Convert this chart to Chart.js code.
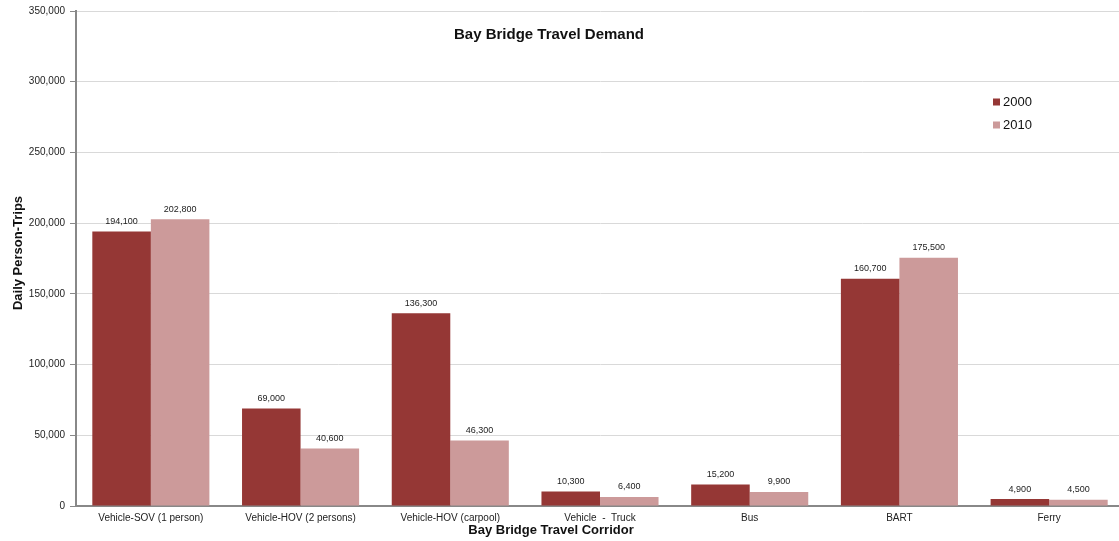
<!DOCTYPE html>
<html>
<head>
<meta charset="utf-8">
<script src="https://cdn.jsdelivr.net/npm/chart.js@4/dist/chart.umd.min.js"></script>
<style>
  html, body { margin: 0; padding: 0; background: #fff; overflow: hidden; }
  #wrap { width: 1119px; height: 541px; position: relative; overflow: hidden; }
  #c { display: block; }
</style>
</head>
<body>
<div id="wrap"><canvas id="c" width="1124" height="541"></canvas></div>
<script>
const categories = ["Vehicle-SOV (1 person)", "Vehicle-HOV (2 persons)", "Vehicle-HOV (carpool)", "Vehicle  -  Truck", "Bus", "BART", "Ferry"];
const series2000 = [194100, 69000, 136300, 10300, 15200, 160700, 4900];
const series2010 = [202800, 40600, 46300, 6400, 9900, 175500, 4500];
const seriesNames = ["2000", "2010"];
const yTicks = [0, 50000, 100000, 150000, 200000, 250000, 300000, 350000];

const chartTitle = "Bay Bridge Travel Demand";
const xTitle = "Bay Bridge Travel Corridor";
const yTitle = "Daily Person-Trips";
const colors = ["#953735", "#CC9A9A"];
const FONT = "'Liberation Sans', Arial, sans-serif";

const fmt = v => v.toLocaleString('en-US');

const overlay = {
  id: 'overlay',
  afterDatasetsDraw(chart) {
    const ctx = chart.ctx;
    ctx.save();
    // value labels
    ctx.font = "9px " + FONT;
    ctx.fillStyle = "#222";
    ctx.textAlign = "center";
    ctx.textBaseline = "middle";
    chart.data.datasets.forEach((ds, di) => {
      chart.getDatasetMeta(di).data.forEach((bar, i) => {
        ctx.fillText(fmt(ds.data[i]), bar.x, bar.y - 10);
      });
    });
    // title
    ctx.font = "bold 15px " + FONT;
    ctx.fillStyle = "#111";
    ctx.fillText(chartTitle, 549, 34.5);
    // x title
    ctx.font = "bold 13px " + FONT;
    ctx.fillText(xTitle, 551, 530);
    // y title
    ctx.save();
    ctx.translate(18, 253);
    ctx.rotate(-Math.PI / 2);
    ctx.fillText(yTitle, 0, 0);
    ctx.restore();
    // legend
    ctx.font = "13px " + FONT;
    ctx.textAlign = "left";
    seriesNames.forEach((n, i) => {
      const y = 102 + i * 23;
      ctx.fillStyle = colors[i];
      ctx.fillRect(993, y - 3.5, 7, 7);
      ctx.fillStyle = "#111";
      ctx.fillText(n, 1003, y + 0.5);
    });
    ctx.restore();
  }
};

new Chart(document.getElementById('c'), {
  type: 'bar',
  data: {
    labels: categories,
    datasets: [
      { label: seriesNames[0], data: series2000, backgroundColor: colors[0], categoryPercentage: 0.782, barPercentage: 1.0 },
      { label: seriesNames[1], data: series2010, backgroundColor: colors[1], categoryPercentage: 0.782, barPercentage: 1.0 }
    ]
  },
  options: {
    responsive: false,
    animation: false,
    layout: { padding: { top: 9, right: 0, left: 0, bottom: 0 } },
    plugins: { legend: { display: false }, title: { display: false }, tooltip: { enabled: false } },
    scales: {
      x: {
        grid: { display: false, drawTicks: false },
        border: { color: "#888", width: 2 },
        ticks: { color: "#222", font: { size: 10, family: FONT }, padding: 6, maxRotation: 0, autoSkip: false },
        afterFit(scale) { scale.height = 35; }
      },
      y: {
        min: 0, max: 350000,
        afterBuildTicks(scale) { scale.ticks = yTicks.map(v => ({ value: v })); },
        grid: { color: "#d9d9d9", lineWidth: 1, tickColor: "#888", tickLength: 6 },
        border: { color: "#888", width: 2 },
        ticks: { color: "#222", font: { size: 10, family: FONT }, padding: 5, callback: v => fmt(v) },
        afterFit(scale) { scale.width = 76; }
      }
    }
  },
  plugins: [overlay]
});
</script>
</body>
</html>
